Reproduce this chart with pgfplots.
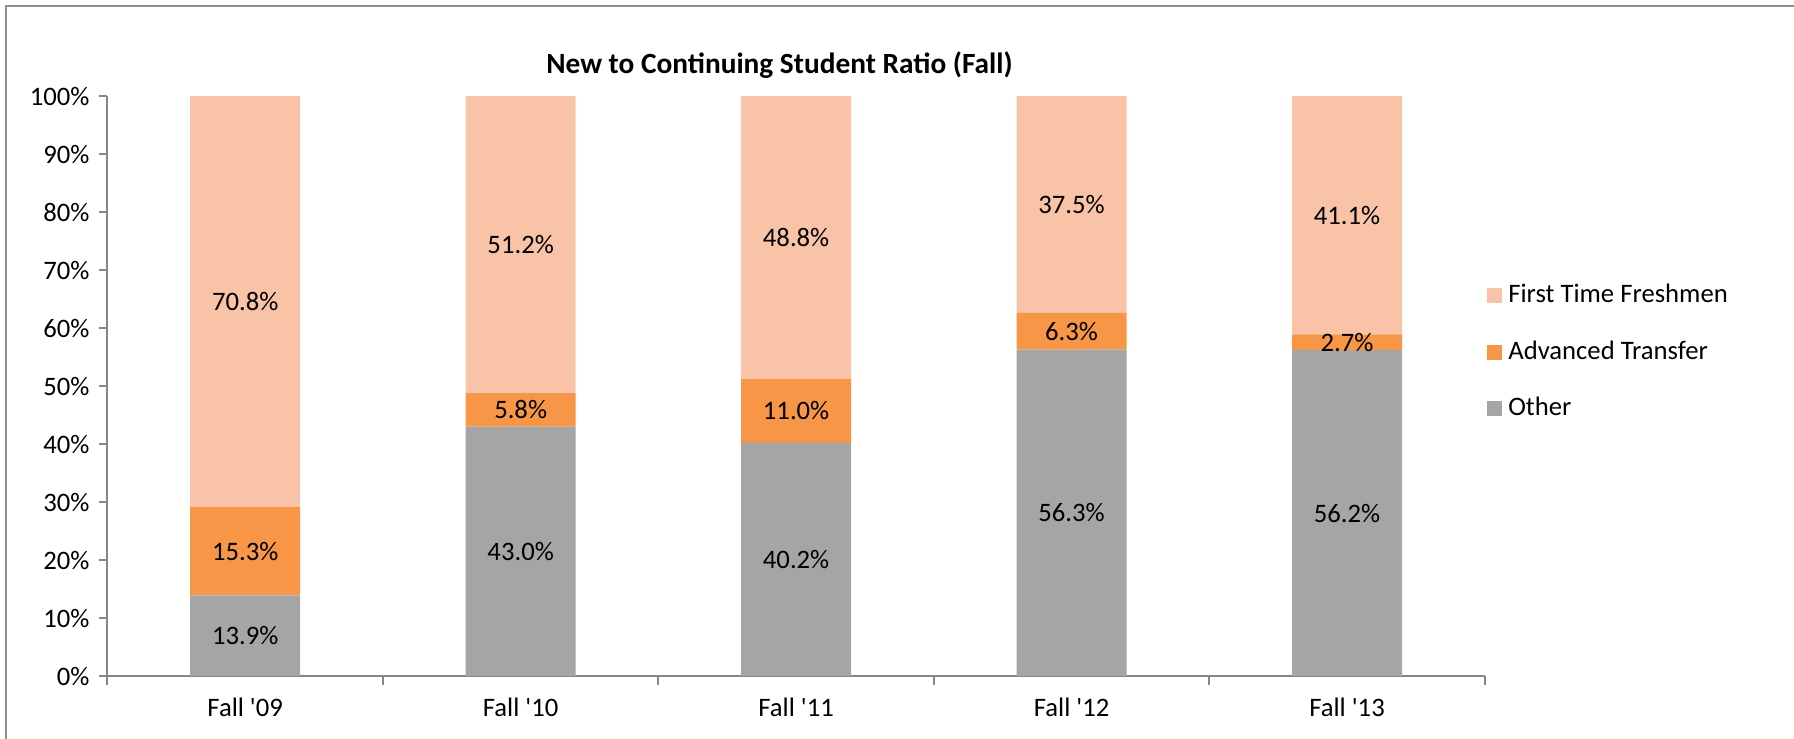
\documentclass[border=0pt]{standalone}
\usepackage{fontspec}
\setmainfont{Carlito}[Ligatures=TeXOff]
\usepackage{pgfplots}
\pgfplotsset{compat=1.18}
\definecolor{ftf}{HTML}{F9C3A8}
\definecolor{atr}{HTML}{F79646}
\definecolor{oth}{HTML}{A5A5A5}
\definecolor{axgray}{HTML}{868686}
\definecolor{framegray}{HTML}{8E8E8E}

\begin{document}
\begin{tikzpicture}
\useasboundingbox (0,0) rectangle (672.75pt,277.125pt);
\draw[framegray, line width=0.75pt] (2.3pt,0) -- (2.3pt,274.8pt) -- (672.75pt,274.8pt);

\node[font=\fontsize{11}{13}\selectfont\bfseries] at (292.3pt,252.75pt) {New to Continuing Student Ratio (Fall)};

\pgfplotsset{base/.style={
    width=516.5pt, height=217.5pt, scale only axis,
    xmin=-0.5, xmax=4.5, ymin=0, ymax=100,
    at={(40.3pt,23.6pt)}, anchor=south west}}

\begin{axis}[base,
    ybar stacked, bar width=41.25pt,
    axis x line*=bottom, axis y line*=left,
    axis line style={axgray, line width=0.75pt},
    tick style={axgray, line width=0.75pt},
    tick align=outside, major tick length=3.2pt, minor tick length=3.2pt,
    xtick={0,...,4},
    xticklabels={Fall '09, Fall '10, Fall '11, Fall '12, Fall '13},
    major x tick style={draw=none},
    minor xtick={-0.5,0.5,...,4.5},
    xticklabel style={anchor=base, yshift=-12pt},
    ytick={0,10,...,100},
    yticklabels={0\%,10\%,20\%,30\%,40\%,50\%,60\%,70\%,80\%,90\%,100\%},
    reverse legend,
    legend cell align=left,
    legend style={draw=none, fill=none, at={(1.0015,0.558)}, anchor=west,
        inner sep=0pt, row sep=12.2pt, column sep=2.25pt,
        nodes={inner sep=0pt, text height=7pt, text depth=2pt}},
]
% Other
\addplot[fill=oth, draw=none,
    legend image code/.code={\fill[oth] (0pt,-2.8pt) rectangle (5.6pt,2.8pt);}]
    coordinates {(0,13.9) (1,43.0) (2,40.2) (3,56.3) (4,56.2)};
\addlegendentry{Other}
% Advanced Transfer
\addplot[fill=atr, draw=none,
    legend image code/.code={\fill[atr] (0pt,-2.8pt) rectangle (5.6pt,2.8pt);}]
    coordinates {(0,15.3) (1,5.8) (2,11.0) (3,6.3) (4,2.7)};
\addlegendentry{Advanced Transfer}
% First Time Freshmen
\addplot[fill=ftf, draw=none,
    legend image code/.code={\fill[ftf] (0pt,-2.8pt) rectangle (5.6pt,2.8pt);}]
    coordinates {(0,70.8) (1,51.2) (2,48.8) (3,37.5) (4,41.1)};
\addlegendentry{First Time Freshmen}
\end{axis}

% segment labels, centred in each segment
\begin{axis}[base, hide axis]
\addplot[only marks, mark=*, mark size=0pt, mark options={draw=none, fill=none},
    nodes near coords, point meta=explicit symbolic,
    nodes near coords style={anchor=center, text=black}]
    coordinates {
    (0,6.95) [13.9\%] (0,21.55) [15.3\%] (0,64.6) [70.8\%]
    (1,21.5) [43.0\%] (1,45.9) [5.8\%] (1,74.4) [51.2\%]
    (2,20.1) [40.2\%] (2,45.7) [11.0\%] (2,75.6) [48.8\%]
    (3,28.15) [56.3\%] (3,59.45) [6.3\%] (3,81.35) [37.5\%]
    (4,28.1) [56.2\%] (4,57.55) [2.7\%] (4,79.45) [41.1\%]
    };
\end{axis}
\end{tikzpicture}
\end{document}
